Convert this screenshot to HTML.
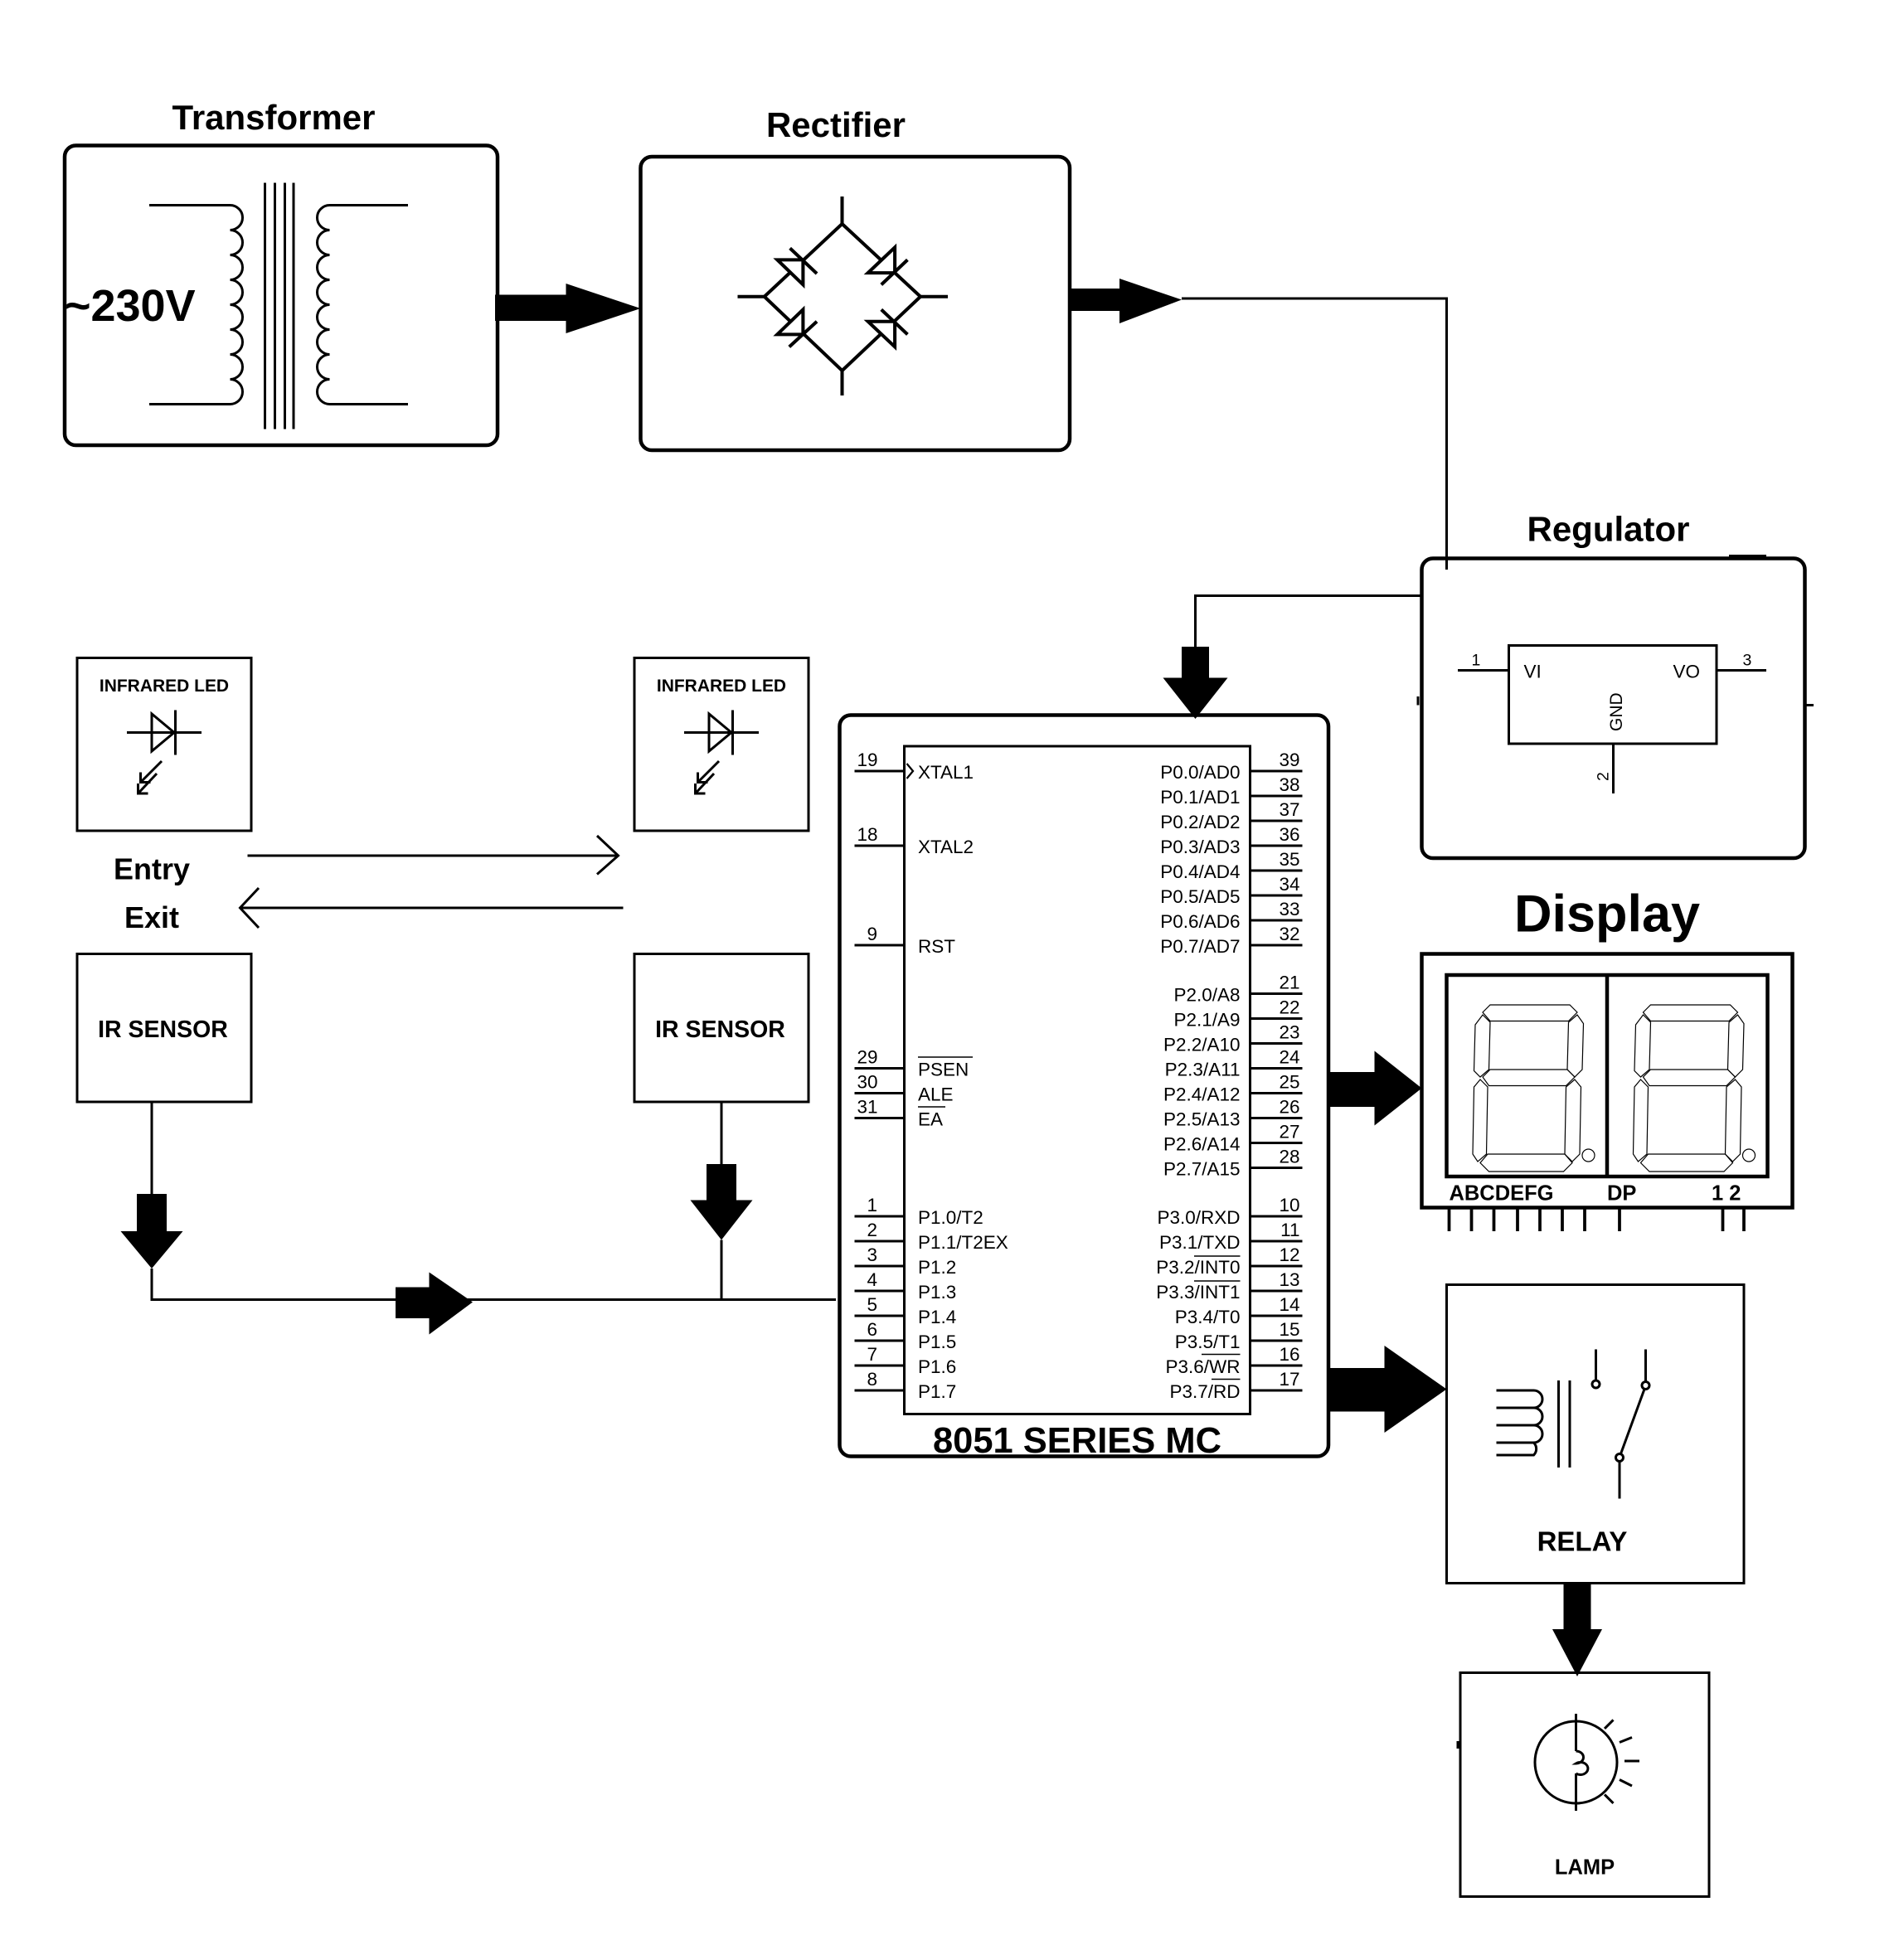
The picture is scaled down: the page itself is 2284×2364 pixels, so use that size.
<!DOCTYPE html>
<html><head><meta charset="utf-8"><style>
html,body{margin:0;padding:0;background:#fff;}
svg{display:block;}
text{font-family:"Liberation Sans",sans-serif;fill:#000;}
</style></head><body>
<svg width="2284" height="2364" viewBox="0 0 1522.67 1576" xmlns="http://www.w3.org/2000/svg">
<defs>
<g id="seg" fill="none" stroke="#000" stroke-width="0.8">
<polygon points="1198,808 1262,808 1268,814 1261,821 1198,821 1192,814"/>
<polygon points="1192,816 1198,822 1197,860 1190,866 1185,861 1186,824"/>
<polygon points="1268,816 1273,823 1272,860 1266,866 1260,860 1261,822"/>
<polygon points="1192,866 1198,860 1260,860 1266,866 1259,873 1197,873"/>
<polygon points="1190,868 1196,874 1195,928 1188,934 1184,928 1185,874"/>
<polygon points="1266,868 1271,874 1270,928 1264,934 1258,928 1259,874"/>
<polygon points="1190,935 1196,928 1258,928 1264,935 1257,942 1197,942"/>
<circle cx="1277" cy="929" r="5"/>
</g>
</defs>
<rect width="1523" height="1576" fill="#fff"/>
<g fill="none" stroke="#000" stroke-width="3">
<rect x="52" y="117" width="348" height="241" rx="9"/>
<rect x="515" y="126" width="345" height="236" rx="9"/>
<rect x="1143" y="449" width="308" height="241" rx="9"/>
<rect x="675" y="575" width="393" height="596" rx="9"/>
<rect x="1143" y="767" width="298" height="204"/>
<rect x="1163" y="784" width="258" height="162"/>
<line x1="1292" y1="784" x2="1292" y2="946"/>
<rect x="1163" y="1033" width="239" height="240" stroke-width="2"/>
<rect x="1174" y="1345" width="200" height="180" stroke-width="2"/>
<rect x="62" y="529" width="140" height="139" stroke-width="2"/>
<rect x="510" y="529" width="140" height="139" stroke-width="2"/>
<rect x="62" y="767" width="140" height="119" stroke-width="2"/>
<rect x="510" y="767" width="140" height="119" stroke-width="2"/>
</g>
<g fill="none" stroke="#000" stroke-width="2">
<line x1="120" y1="165" x2="185" y2="165"/>
<line x1="120" y1="325" x2="185" y2="325"/>
<path d="M185,165 a10,10 0 0 1 0,20 a10,10 0 0 1 0,20 a10,10 0 0 1 0,20 a10,10 0 0 1 0,20 a10,10 0 0 1 0,20 a10,10 0 0 1 0,20 a10,10 0 0 1 0,20 a10,10 0 0 1 0,20"/>
<line x1="213" y1="147" x2="213" y2="345"/><line x1="221" y1="147" x2="221" y2="345"/>
<line x1="229" y1="147" x2="229" y2="345"/><line x1="236" y1="147" x2="236" y2="345"/>
<path d="M265,165 a10,10 0 0 0 0,20 a10,10 0 0 0 0,20 a10,10 0 0 0 0,20 a10,10 0 0 0 0,20 a10,10 0 0 0 0,20 a10,10 0 0 0 0,20 a10,10 0 0 0 0,20 a10,10 0 0 0 0,20"/>
<line x1="265" y1="165" x2="328" y2="165"/>
<line x1="265" y1="325" x2="328" y2="325"/>
</g>
<g fill="none" stroke="#000" stroke-width="2.7">
<polygon points="677,180 740,238.5 677,298 614.5,238.5"/>
<line x1="677" y1="158" x2="677" y2="180"/><line x1="677" y1="298" x2="677" y2="318"/>
<line x1="593" y1="238.5" x2="614.5" y2="238.5"/><line x1="740" y1="238.5" x2="762" y2="238.5"/>
</g>
<g fill="#fff" stroke="#000" stroke-width="2.7">
<polygon points="624.9,208.9 645.6,208.9 645.6,228.9"/><line x1="635.1" y1="199.6" x2="656.7" y2="220"/>
<polygon points="697.8,219.4 719.4,219.4 719.4,198.9"/><line x1="708.5" y1="228.9" x2="729.6" y2="208.9"/>
<polygon points="624.9,268.9 645.6,268.9 645.6,248.9"/><line x1="634.5" y1="278.9" x2="656.7" y2="258.5"/>
<polygon points="697.8,258.5 719.4,258.5 719.4,278.9"/><line x1="708.5" y1="248.9" x2="729.6" y2="268.9"/>
</g>
<text x="220" y="104" font-size="28" font-weight="bold" text-anchor="middle">Transformer</text>
<text x="52" y="258" font-size="36" font-weight="bold">~230V</text>
<text x="672" y="110" font-size="28" font-weight="bold" text-anchor="middle">Rectifier</text>
<text x="1293" y="435" font-size="28" font-weight="bold" text-anchor="middle">Regulator</text>
<text x="1292" y="749" font-size="42" font-weight="bold" text-anchor="middle">Display</text>
<g fill="#000">
<rect x="398" y="237" width="58" height="21"/><polygon points="455,228 515,248 455,268"/>
<rect x="860" y="232" width="42" height="18"/><polygon points="900,224 950,241 900,260"/>
<rect x="950" y="520" width="22" height="26"/><polygon points="935,545 987,545 961,578"/>
<rect x="1068" y="862" width="38" height="28"/><polygon points="1105,845 1143,875 1105,905"/>
<rect x="1068" y="1100" width="46" height="35"/><polygon points="1113,1082 1163,1117 1113,1152"/>
<rect x="1257" y="1273" width="22" height="38"/><polygon points="1248,1310 1288,1310 1268,1348"/>
<rect x="110" y="960" width="24" height="31"/><polygon points="97,990 147,990 122,1020"/>
<rect x="568" y="936" width="24" height="30"/><polygon points="555,965 605,965 580,997"/>
<rect x="318" y="1035" width="28" height="25"/><polygon points="345,1023 380,1047 345,1073"/>
</g>
<g fill="none" stroke="#000" stroke-width="2">
<polyline points="950,240 1163,240 1163,458"/>
<polyline points="1143,479 961,479 961,520"/>
<line x1="1390" y1="447" x2="1420" y2="447"/>
<line x1="1140" y1="560" x2="1140" y2="567"/><line x1="1452" y1="567" x2="1458" y2="567"/>
<rect x="1213" y="519" width="167" height="79"/>
<line x1="1172" y1="539" x2="1213" y2="539"/><line x1="1380" y1="539" x2="1420" y2="539"/>
<line x1="1297" y1="598" x2="1297" y2="638"/>
<polyline points="122,886 122,960"/>
<polyline points="122,1020 122,1045 672,1045"/>
<polyline points="580,886 580,936"/><polyline points="580,997 580,1045"/>
<line x1="199" y1="688" x2="497" y2="688"/><polyline points="480,672 497,688 480,703"/>
<line x1="501" y1="730" x2="193" y2="730"/><polyline points="208,714 193,730 208,746"/>
<rect x="727" y="600" width="278" height="537"/>
</g>
<g fill="none" stroke="#000" stroke-width="2">
<g id="irled">
<line x1="102" y1="589" x2="162" y2="589"/>
<polygon points="122,574 122,604 140,589"/>
<line x1="141" y1="571" x2="141" y2="607"/>
<line x1="130" y1="612" x2="113" y2="629"/><polyline points="113,621 113,629 121,629"/>
<line x1="126" y1="622" x2="111" y2="638"/><polyline points="111,630 111,638 119,638"/>
</g>
<use href="#irled" transform="translate(448,0)"/>
</g>
<g font-size="14" font-weight="bold" text-anchor="middle">
<text x="132" y="556">INFRARED LED</text><text x="580" y="556">INFRARED LED</text>
</g>
<g font-size="19" font-weight="bold" text-anchor="middle">
<text x="131" y="834">IR SENSOR</text><text x="579" y="834">IR SENSOR</text>
</g>
<text x="122" y="707" font-size="24" font-weight="bold" text-anchor="middle">Entry</text>
<text x="122" y="746" font-size="24" font-weight="bold" text-anchor="middle">Exit</text>
<g font-size="15">
<text x="1225" y="545">VI</text><text x="1345" y="545">VO</text>
<text x="1183" y="535" font-size="13">1</text><text x="1401" y="535" font-size="13">3</text>
<text transform="translate(1304,588) rotate(-90)" font-size="14">GND</text>
<text transform="translate(1293,628) rotate(-90)" font-size="13">2</text>
</g>
<g stroke="#000" stroke-width="2">
<line x1="687" y1="620" x2="727" y2="620"/><line x1="687" y1="680" x2="727" y2="680"/>
<line x1="687" y1="760" x2="727" y2="760"/><line x1="687" y1="859" x2="727" y2="859"/>
<line x1="687" y1="879" x2="727" y2="879"/><line x1="687" y1="899" x2="727" y2="899"/>
<line x1="687" y1="978" x2="727" y2="978"/><line x1="687" y1="998" x2="727" y2="998"/>
<line x1="687" y1="1018" x2="727" y2="1018"/><line x1="687" y1="1038" x2="727" y2="1038"/>
<line x1="687" y1="1058" x2="727" y2="1058"/><line x1="687" y1="1078" x2="727" y2="1078"/>
<line x1="687" y1="1098" x2="727" y2="1098"/><line x1="687" y1="1118" x2="727" y2="1118"/>
<line x1="1005" y1="620" x2="1047" y2="620"/><line x1="1005" y1="640" x2="1047" y2="640"/>
<line x1="1005" y1="660" x2="1047" y2="660"/><line x1="1005" y1="680" x2="1047" y2="680"/>
<line x1="1005" y1="700" x2="1047" y2="700"/><line x1="1005" y1="720" x2="1047" y2="720"/>
<line x1="1005" y1="740" x2="1047" y2="740"/><line x1="1005" y1="760" x2="1047" y2="760"/>
<line x1="1005" y1="799" x2="1047" y2="799"/><line x1="1005" y1="819" x2="1047" y2="819"/>
<line x1="1005" y1="839" x2="1047" y2="839"/><line x1="1005" y1="859" x2="1047" y2="859"/>
<line x1="1005" y1="879" x2="1047" y2="879"/><line x1="1005" y1="899" x2="1047" y2="899"/>
<line x1="1005" y1="919" x2="1047" y2="919"/><line x1="1005" y1="939" x2="1047" y2="939"/>
<line x1="1005" y1="978" x2="1047" y2="978"/><line x1="1005" y1="998" x2="1047" y2="998"/>
<line x1="1005" y1="1018" x2="1047" y2="1018"/><line x1="1005" y1="1038" x2="1047" y2="1038"/>
<line x1="1005" y1="1058" x2="1047" y2="1058"/><line x1="1005" y1="1078" x2="1047" y2="1078"/>
<line x1="1005" y1="1098" x2="1047" y2="1098"/><line x1="1005" y1="1118" x2="1047" y2="1118"/>
</g>
<polyline points="729,614 734,620 729,626" fill="none" stroke="#000" stroke-width="1.5"/>
<g font-size="15">
<text x="689" y="616">19</text><text x="689" y="676">18</text><text x="697" y="756">9</text>
<text x="689" y="855">29</text><text x="689" y="875">30</text><text x="689" y="895">31</text>
<text x="697" y="974">1</text><text x="697" y="994">2</text><text x="697" y="1014">3</text><text x="697" y="1034">4</text>
<text x="697" y="1054">5</text><text x="697" y="1074">6</text><text x="697" y="1094">7</text><text x="697" y="1114">8</text>
<text x="738" y="626">XTAL1</text><text x="738" y="686">XTAL2</text><text x="738" y="766">RST</text>
<text x="738" y="865">PSEN</text><text x="738" y="885">ALE</text><text x="738" y="905">EA</text>
<text x="738" y="984">P1.0/T2</text><text x="738" y="1004">P1.1/T2EX</text><text x="738" y="1024">P1.2</text>
<text x="738" y="1044">P1.3</text><text x="738" y="1064">P1.4</text><text x="738" y="1084">P1.5</text>
<text x="738" y="1104">P1.6</text><text x="738" y="1124">P1.7</text>
</g>
<g stroke="#000" stroke-width="1"><line x1="738" y1="850" x2="782" y2="850"/><line x1="738" y1="890" x2="760" y2="890"/>
<line x1="960" y1="1010" x2="997" y2="1010"/><line x1="960" y1="1030" x2="997" y2="1030"/>
<line x1="966" y1="1089" x2="997" y2="1089"/><line x1="974" y1="1109" x2="997" y2="1109"/></g>
<g font-size="15" text-anchor="end">
<text x="997" y="626">P0.0/AD0</text><text x="997" y="646">P0.1/AD1</text><text x="997" y="666">P0.2/AD2</text>
<text x="997" y="686">P0.3/AD3</text><text x="997" y="706">P0.4/AD4</text><text x="997" y="726">P0.5/AD5</text>
<text x="997" y="746">P0.6/AD6</text><text x="997" y="766">P0.7/AD7</text>
<text x="997" y="805">P2.0/A8</text><text x="997" y="825">P2.1/A9</text><text x="997" y="845">P2.2/A10</text>
<text x="997" y="865">P2.3/A11</text><text x="997" y="885">P2.4/A12</text><text x="997" y="905">P2.5/A13</text>
<text x="997" y="925">P2.6/A14</text><text x="997" y="945">P2.7/A15</text>
<text x="997" y="984">P3.0/RXD</text><text x="997" y="1004">P3.1/TXD</text><text x="997" y="1024">P3.2/INT0</text>
<text x="997" y="1044">P3.3/INT1</text><text x="997" y="1064">P3.4/T0</text><text x="997" y="1084">P3.5/T1</text>
<text x="997" y="1104">P3.6/WR</text><text x="997" y="1124">P3.7/RD</text>
<text x="1045" y="616">39</text><text x="1045" y="636">38</text><text x="1045" y="656">37</text><text x="1045" y="676">36</text>
<text x="1045" y="696">35</text><text x="1045" y="716">34</text><text x="1045" y="736">33</text><text x="1045" y="756">32</text>
<text x="1045" y="795">21</text><text x="1045" y="815">22</text><text x="1045" y="835">23</text><text x="1045" y="855">24</text>
<text x="1045" y="875">25</text><text x="1045" y="895">26</text><text x="1045" y="915">27</text><text x="1045" y="935">28</text>
<text x="1045" y="974">10</text><text x="1045" y="994">11</text><text x="1045" y="1014">12</text><text x="1045" y="1034">13</text>
<text x="1045" y="1054">14</text><text x="1045" y="1074">15</text><text x="1045" y="1094">16</text><text x="1045" y="1114">17</text>
</g>
<text x="866" y="1168" font-size="29" font-weight="bold" text-anchor="middle">8051 SERIES MC</text>
<use href="#seg"/>
<use href="#seg" transform="translate(129,0)"/>
<text x="1165" y="965" font-size="17" font-weight="bold">ABCDEFG</text>
<text x="1292" y="965" font-size="17" font-weight="bold">DP</text>
<text x="1376" y="965" font-size="17" font-weight="bold">1 2</text>
<g stroke="#000" stroke-width="2.5">
<line x1="1165" y1="971" x2="1165" y2="990"/><line x1="1183" y1="971" x2="1183" y2="990"/>
<line x1="1201" y1="971" x2="1201" y2="990"/><line x1="1220" y1="971" x2="1220" y2="990"/>
<line x1="1238" y1="971" x2="1238" y2="990"/><line x1="1256" y1="971" x2="1256" y2="990"/>
<line x1="1274" y1="971" x2="1274" y2="990"/><line x1="1302" y1="971" x2="1302" y2="990"/>
<line x1="1385" y1="971" x2="1385" y2="990"/><line x1="1402" y1="971" x2="1402" y2="990"/>
</g>
<g fill="none" stroke="#000" stroke-width="2">
<path d="M1203,1118 h30 a7,7 0 0 1 0,14 h-30 M1233,1132 a7,7 0 0 1 0,14 h-30 M1233,1146 a7,7 0 0 1 0,14 h-30 M1233,1160 a7,7 0 0 1 0,10 h-30"/>
<line x1="1253" y1="1110" x2="1253" y2="1180"/><line x1="1262" y1="1110" x2="1262" y2="1180"/>
<circle cx="1283" cy="1113" r="3"/><line x1="1283" y1="1085" x2="1283" y2="1110"/>
<circle cx="1323" cy="1114" r="3"/><line x1="1323" y1="1085" x2="1323" y2="1111"/>
<circle cx="1302" cy="1172" r="3"/><line x1="1302" y1="1175" x2="1302" y2="1205"/>
<line x1="1303" y1="1169" x2="1322" y2="1117"/>
</g>
<text x="1272" y="1247" font-size="22" font-weight="bold" text-anchor="middle">RELAY</text>
<g fill="none" stroke="#000" stroke-width="2">
<circle cx="1267" cy="1417" r="33"/>
<line x1="1267" y1="1378" x2="1267" y2="1408"/><line x1="1267" y1="1426" x2="1267" y2="1456"/>
<path d="M1267,1408 a6,5 0 1 1 0,10 a6,5 0 1 1 0,8"/>
<line x1="1290" y1="1390" x2="1297" y2="1383"/><line x1="1302" y1="1401" x2="1312" y2="1397"/>
<line x1="1306" y1="1416" x2="1318" y2="1416"/><line x1="1302" y1="1431" x2="1312" y2="1436"/>
<line x1="1290" y1="1443" x2="1297" y2="1450"/>
<line x1="1172" y1="1400" x2="1172" y2="1406"/>
</g>
<text x="1274" y="1507" font-size="17" font-weight="bold" text-anchor="middle">LAMP</text>
</svg>
</body></html>
